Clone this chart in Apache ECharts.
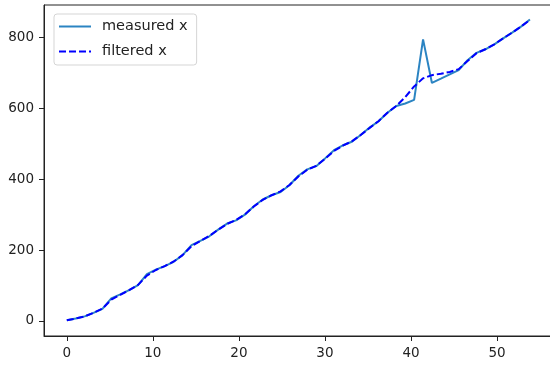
<!DOCTYPE html>
<html>
<head>
<meta charset="utf-8">
<script src="https://cdn.jsdelivr.net/npm/echarts@6/dist/echarts.min.js"></script>
<style>
  html, body { margin: 0; padding: 0; background: #fff; }
  #chart { width: 550px; height: 370px; }
</style>
</head>
<body>
<div id="chart"></div>
<script>
// time steps
var t = [0, 1.03, 2.07, 3.10, 4.14, 5.17, 6.21, 7.24, 8.28, 9.31, 10.35, 11.38, 12.42, 13.45,
  14.49, 15.52, 16.56, 17.59, 18.63, 19.66, 20.70, 21.73, 22.77, 23.80, 24.84, 25.87, 26.91,
  27.94, 28.98, 30.01, 31.05, 32.08, 33.12, 34.15, 35.19, 36.22, 37.26, 38.29, 39.33, 40.36,
  41.40, 42.43, 43.47, 44.50, 45.54, 46.57, 47.61, 48.64, 49.68, 50.71, 51.75, 52.78, 53.82];
var measured = [2, 7, 13, 23, 34, 64, 75, 87, 101, 132, 145, 155, 167, 186, 214, 226, 239,
  258, 275, 284, 300, 324, 343, 355, 364, 383, 410, 428, 437, 459, 482, 496, 506, 525, 546,
  564, 588, 607, 614, 624, 795, 672, 684, 696, 708, 736, 757, 767, 781, 798, 814, 831, 851];
var filtered = [2, 7, 13, 23, 35, 60, 74, 87, 102, 128, 144, 155, 168, 186, 211, 226, 240,
  258, 274, 285, 301, 323, 342, 355, 366, 384, 408, 427, 438, 458, 480, 495, 507, 525, 545,
  564, 588, 607, 632, 662, 685, 694, 698, 703, 711, 734, 756, 767, 781, 798, 814, 831, 850];
var xTicks = [0, 10, 20, 30, 40, 50];
var yTicks = [0, 200, 400, 600, 800];

function pairs(xs, ys) {
  var out = [];
  for (var i = 0; i < xs.length; i++) out.push([xs[i], ys[i]]);
  return out;
}

var font = 'DejaVu Sans';
var chart = echarts.init(document.getElementById('chart'));
var option = {
  animation: false,
  backgroundColor: '#fff',
  grid: {
    left: 44, top: 5, width: 509, height: 331,
    outerBoundsMode: 'none',
    show: true, borderColor: '#222', borderWidth: 1
  },
  legend: {
    orient: 'vertical',
    left: 54, top: 14,
    padding: [5, 9, 6, 4],
    itemWidth: 32, itemHeight: 14, itemGap: 10,
    backgroundColor: '#fff',
    borderColor: '#d5d5d5', borderWidth: 1, borderRadius: 3,
    itemStyle: { color: 'transparent', borderWidth: 0 },
    textStyle: { fontFamily: font, fontSize: 14.5, color: '#222', padding: [0, 0, 0, 6] },
    data: ['measured x', 'filtered x']
  },
  xAxis: {
    type: 'value', min: -2.65, max: 56.5,
    axisLine: { onZero: false, lineStyle: { color: '#222', width: 1 } },
    axisTick: { customValues: xTicks, length: 5, lineStyle: { color: '#222' } },
    axisLabel: { customValues: xTicks, margin: 10, fontFamily: font, fontSize: 13.5, color: '#222' },
    splitLine: { show: false }
  },
  yAxis: {
    type: 'value', min: -42.4, max: 892,
    axisLine: { show: true, onZero: false, lineStyle: { color: '#222', width: 1 } },
    axisTick: { show: true, customValues: yTicks, length: 5, lineStyle: { color: '#222' } },
    axisLabel: { customValues: yTicks, margin: 10, fontFamily: font, fontSize: 13.5, color: '#222' },
    splitLine: { show: false }
  },
  series: [
    {
      name: 'measured x', type: 'line', symbol: 'none',
      data: pairs(t, measured),
      itemStyle: { color: '#1f77b4' },
      lineStyle: { color: '#2b84c2', width: 2 }
    },
    {
      name: 'filtered x', type: 'line', symbol: 'none',
      data: pairs(t, filtered),
      itemStyle: { color: '#0000ff' },
      lineStyle: { color: '#0000ff', width: 2, type: [7, 3] }
    }
  ]
};
chart.setOption(option);
</script>
</body>
</html>
